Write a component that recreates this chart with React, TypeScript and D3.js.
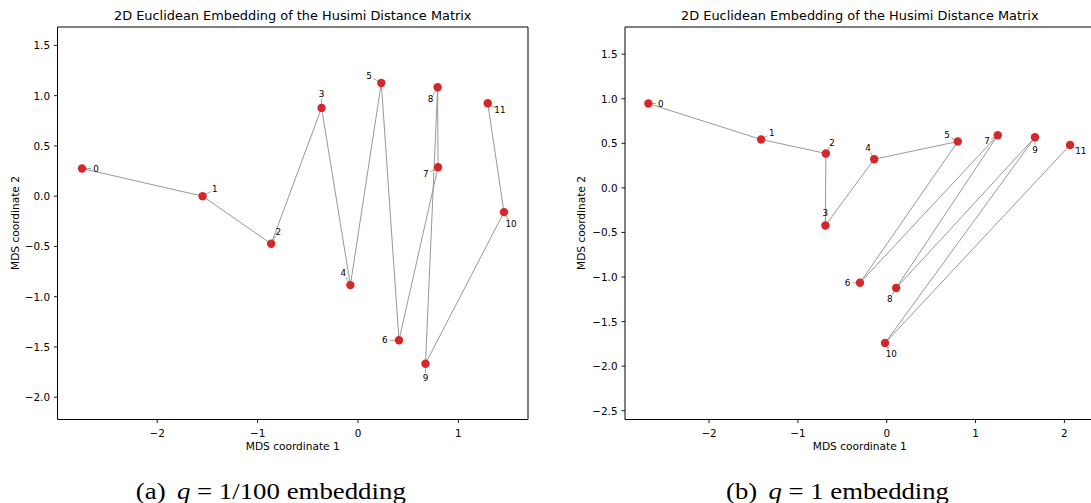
import React from "react";
import * as d3 from "d3";

// ---- data ----
const pointIds = ["0", "1", "2", "3", "4", "5", "6", "7", "8", "9", "10", "11"];

const aX = [-2.749, -1.548, -0.865, -0.363, -0.076, 0.232, 0.408, 0.797, 0.793, 0.672, 1.454, 1.292];
const aY = [0.275, 0.0, -0.474, 0.878, -0.885, 1.126, -1.434, 0.288, 1.083, -1.667, -0.159, 0.924];

const bX = [-2.683, -1.414, -0.685, -0.69, -0.141, 0.8, -0.301, 1.25, 0.106, 1.669, -0.019, 2.064];
const bY = [0.946, 0.543, 0.386, -0.422, 0.322, 0.52, -1.065, 0.591, -1.124, 0.568, -1.741, 0.482];

const aXTicks = [-2, -1, 0, 1];
const aYTicks = [-2, -1.5, -1, -0.5, 0, 0.5, 1, 1.5];
const bXTicks = [-2, -1, 0, 1, 2];
const bYTicks = [-2.5, -2, -1.5, -1, -0.5, 0, 0.5, 1, 1.5];

const aXDomain = [-2.99, 1.69];
const aYDomain = [-2.217, 1.683];
const bXDomain = [-2.946, 2.34];
const bYDomain = [-2.593, 1.805];

const titleText = "2D Euclidean Embedding of the Husimi Distance Matrix";
const xLabelText = "MDS coordinate 1";
const yLabelText = "MDS coordinate 2";

const FONT = "'DejaVu Sans', sans-serif";
const fmtMinus = (s: string) => s.replace("-", "\u2212");

type PanelProps = {
  xs: number[];
  ys: number[];
  xDomain: number[];
  yDomain: number[];
  xTicks: number[];
  yTicks: number[];
  left: number;
  right: number;
  top: number;
  bottom: number;
  yLabelX: number;
  spineLeftX: number;
  spineRightX: number;
};

function Panel(p: PanelProps) {
  const x = d3.scaleLinear().domain(p.xDomain).range([p.left, p.right]);
  const y = d3.scaleLinear().domain(p.yDomain).range([p.bottom, p.top]);
  const pts: [number, number][] = p.xs.map((v, i) => [x(v), y(p.ys[i])]);
  const line = d3.line()(pts) || "";
  const offsetPx = 0.14 * (x(1) - x(0));
  const cx = (p.left + p.right) / 2;
  const cy = (p.top + p.bottom) / 2;
  const fx = d3.format(".0f");
  const fy = d3.format(".1f");
  return (
    <g>
      <text x={cx} y={20} textAnchor="middle" fontFamily={FONT} fontSize={12.9} fill="#000">
        {titleText}
      </text>
      <path d={line} fill="none" stroke="#8c8c8c" strokeWidth={0.9} />
      {pts.map(([px, py], i) => {
        const ang = (i * 30 * Math.PI) / 180;
        const dx = Math.cos(ang);
        const dy = -Math.sin(ang);
        return (
          <line
            key={"a" + i}
            x1={px + dx * 2}
            y1={py + dy * 2}
            x2={px + dx * (offsetPx - 5)}
            y2={py + dy * (offsetPx - 5)}
            stroke="#8c8c8c"
            strokeWidth={0.8}
          />
        );
      })}
      {pts.map(([px, py], i) => (
        <circle key={"c" + i} cx={px} cy={py} r={4.2} fill="#d62728" />
      ))}
      {pts.map(([px, py], i) => {
        const ang = (i * 30 * Math.PI) / 180;
        return (
          <text
            key={"t" + i}
            x={px + Math.cos(ang) * offsetPx}
            y={py - Math.sin(ang) * offsetPx}
            textAnchor="middle"
            dominantBaseline="central"
            fontFamily={FONT}
            fontSize={8.8}
            fill="#000"
          >
            {pointIds[i]}
          </text>
        );
      })}
      {/* spines */}
      <line x1={p.spineLeftX} y1={p.top} x2={p.spineLeftX} y2={p.bottom + 0.5} stroke="#000" strokeWidth={1} />
      <line x1={p.spineLeftX} y1={p.bottom + 0.5} x2={p.spineRightX} y2={p.bottom + 0.5} stroke="#000" strokeWidth={1} />
      <line x1={p.spineLeftX} y1={p.top} x2={p.spineRightX} y2={p.top} stroke="#000" strokeWidth={1} />
      <line x1={p.spineRightX} y1={p.top} x2={p.spineRightX} y2={p.bottom + 0.5} stroke="#000" strokeWidth={1} />
      {/* x ticks */}
      {p.xTicks.map((t) => (
        <g key={"xt" + t}>
          <line x1={x(t)} x2={x(t)} y1={p.bottom + 0.5} y2={p.bottom + 4} stroke="#000" strokeWidth={0.9} />
          <text x={x(t)} y={p.bottom + 17.5} textAnchor="middle" fontFamily={FONT} fontSize={10.4} fill="#000">
            {fmtMinus(fx(t))}
          </text>
        </g>
      ))}
      {/* y ticks */}
      {p.yTicks.map((t) => (
        <g key={"yt" + t}>
          <line x1={p.spineLeftX - 3.5} x2={p.spineLeftX} y1={y(t)} y2={y(t)} stroke="#000" strokeWidth={0.9} />
          <text
            x={p.spineLeftX - 7.5}
            y={y(t)}
            textAnchor="end"
            dominantBaseline="central"
            fontFamily={FONT}
            fontSize={10.4}
            fill="#000"
          >
            {fmtMinus(fy(t))}
          </text>
        </g>
      ))}
      <text x={cx} y={450} textAnchor="middle" fontFamily={FONT} fontSize={10.6} fill="#000">
        {xLabelText}
      </text>
      <text
        transform={`translate(${p.yLabelX},${cy}) rotate(-90)`}
        textAnchor="middle"
        dominantBaseline="central"
        fontFamily={FONT}
        fontSize={10.6}
        fill="#000"
      >
        {yLabelText}
      </text>
    </g>
  );
}

export default function App() {
  return (
    <svg
      width={1091}
      height={503}
      viewBox="0 0 1091 503"
      style={{ position: "absolute", left: 0, top: 0, background: "#fff" }}
    >
      <rect x={0} y={0} width={1091} height={503} fill="#fff" />
      <Panel
        xs={aX}
        ys={aY}
        xDomain={aXDomain}
        yDomain={aYDomain}
        xTicks={aXTicks}
        yTicks={aYTicks}
        left={57.8}
        right={527.7}
        top={27}
        bottom={419}
        yLabelX={14.8}
        spineLeftX={57.5}
        spineRightX={528}
      />
      <Panel
        xs={bX}
        ys={bY}
        xDomain={bXDomain}
        yDomain={bYDomain}
        xTicks={bXTicks}
        yTicks={bYTicks}
        left={625}
        right={1094.6}
        top={27}
        bottom={419}
        yLabelX={580.7}
        spineLeftX={625}
        spineRightX={1094.6}
      />
      <text
        x={270.8}
        y={499}
        textAnchor="middle"
        fontFamily="'Liberation Serif', serif"
        fontSize={23}
        textLength={270}
        lengthAdjust="spacingAndGlyphs"
        fill="#000"
      >
        (a)<tspan dx={4}> </tspan>
        <tspan fontStyle="italic">q</tspan> = 1/100 embedding
      </text>
      <text
        x={837.5}
        y={499}
        textAnchor="middle"
        fontFamily="'Liberation Serif', serif"
        fontSize={23}
        textLength={223}
        lengthAdjust="spacingAndGlyphs"
        fill="#000"
      >
        (b)<tspan dx={4}> </tspan>
        <tspan fontStyle="italic">q</tspan> = 1 embedding
      </text>
    </svg>
  );
}
